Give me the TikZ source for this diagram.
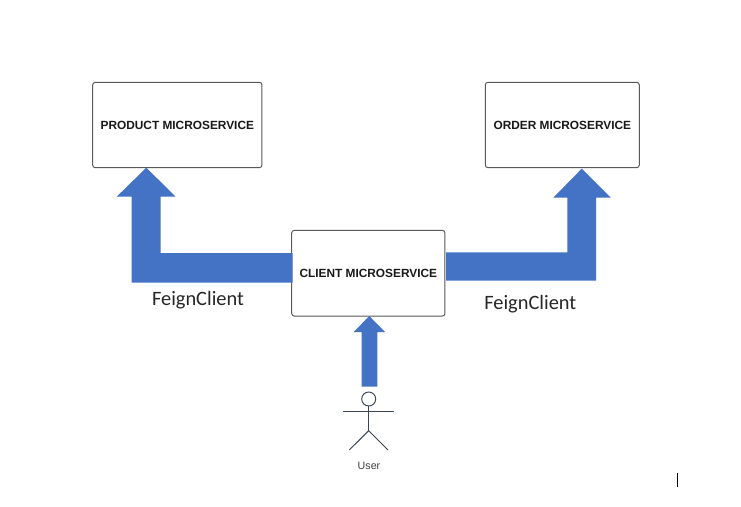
\documentclass[tikz,border=0pt]{standalone}
\usepackage{fontspec}
\setmainfont{Liberation Sans}
\newfontfamily\labelfont{Carlito}
\begin{document}
\begin{tikzpicture}[x=0.75pt,y=-0.75pt,
  box/.style={draw=black!65,line width=0.75pt,rounded corners=2pt,fill=white,inner sep=0pt,align=center,font=\bfseries\fontsize{8.9pt}{10pt}\selectfont,text=black!90},
  blockarrow/.style={fill=arrowblue,draw=none},
  feign/.style={font=\labelfont\fontsize{15.3pt}{18pt}\selectfont,text=black!85,inner sep=0pt},
  actorline/.style={draw=actorgrey,line width=0.7pt}]
\definecolor{arrowblue}{HTML}{4472C4}
\definecolor{actorgrey}{HTML}{3A4454}
\useasboundingbox (0,0) rectangle (741,506);
\fill[white] (0,0) rectangle (741,506);
\node[box,minimum width=169.3*0.75pt,minimum height=85.4*0.75pt] (product) at (177.3,125) {PRODUCT MICROSERVICE};
\node[box,minimum width=154*0.75pt,minimum height=85.4*0.75pt] (order) at (562.3,125) {ORDER MICROSERVICE};
\node[box,minimum width=153.3*0.75pt,minimum height=85.7*0.75pt] (client) at (368.3,273.2) {CLIENT MICROSERVICE};
% block arrows
\path[blockarrow] (292.7,253) -- (160.7,253) -- (160.7,196.7) -- (175.7,196.7) -- (146.3,167.7) -- (116.7,196.7) -- (131.7,196.7) -- (131.7,282.7) -- (292.7,282.7) -- cycle;
\path[blockarrow] (446,252.3) -- (567.3,252.3) -- (567.3,197.7) -- (553.3,197.7) -- (581.7,168.7) -- (610.7,197.7) -- (596,197.7) -- (596,280.7) -- (446,280.7) -- cycle;
\path[blockarrow] (361.7,386.7) -- (361.7,332) -- (353.7,332) -- (369.3,316) -- (385,332) -- (377.3,332) -- (377.3,386.7) -- cycle;
% actor
\node[circle,draw=actorgrey,line width=0.7pt,minimum size=14*0.75pt,inner sep=0pt] (head) at (368.7,399) {};
\coordinate (hip) at (368.7,430.7);
\coordinate (armL) at (343.3,411.7);
\coordinate (armR) at (394,411.7);
\coordinate (legL) at (349.3,450);
\coordinate (legR) at (388,450);
\draw[actorline] (head.south) -- (hip);
\draw[actorline] (armL) -- (armR);
\draw[actorline] (legL) -- (hip) -- (legR);
\node[font=\fontsize{8pt}{9pt}\selectfont,text=black!75,inner sep=0pt] (user) at (369,466) {User};
\node[feign] (feignL) at (198,300) {FeignClient};
\node[feign] (feignR) at (530.3,304.3) {FeignClient};
% caret
\coordinate (caretT) at (677.5,473);
\coordinate (caretB) at (677.5,487);
\draw[black,line width=0.75pt] (caretT) -- (caretB);
\end{tikzpicture}
\end{document}
